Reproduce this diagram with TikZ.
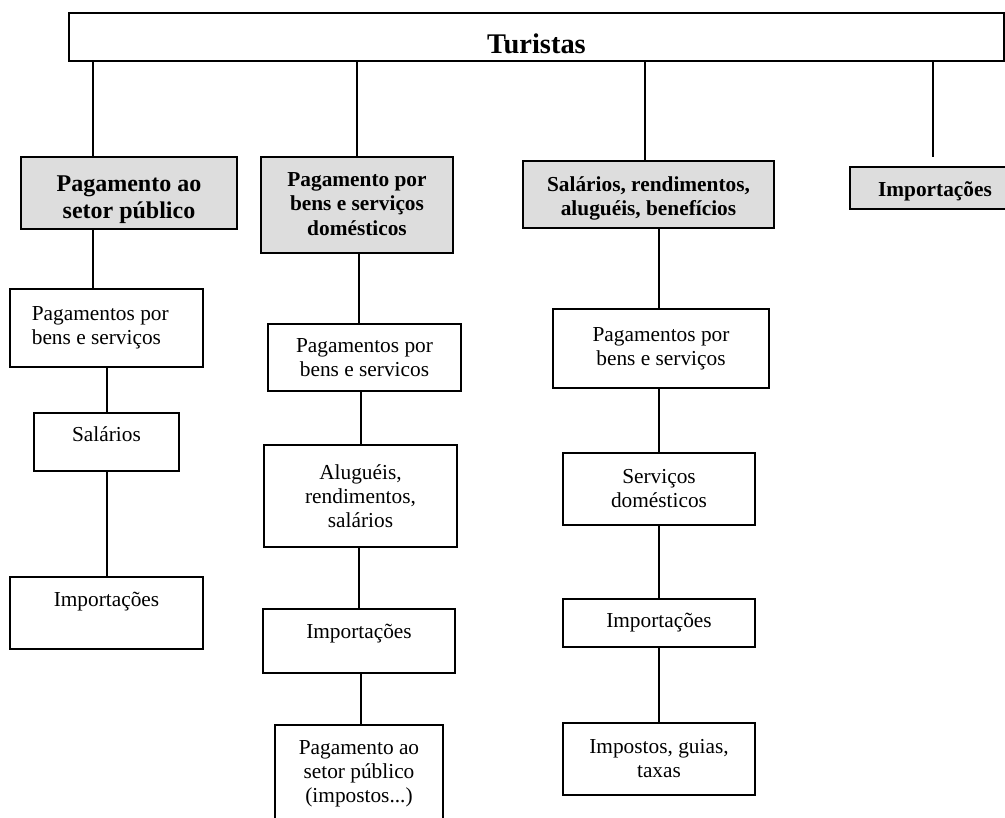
\documentclass[tikz,border=0pt]{standalone}
\usepackage{fontspec}
\setmainfont{Liberation Serif}
\usetikzlibrary{calc}
\definecolor{headgray}{HTML}{DDDDDD}
\newcommand\mydrop[2]{\raisebox{-#1}[\height][\depth]{\begin{tabular}{@{}c@{}}#2\end{tabular}}}
\begin{document}
\begin{tikzpicture}[x=0.5625pt,y=-0.5625pt,
  bx/.style={draw, line width=0.6pt, inner sep=2pt, align=center, font=\fontsize{12}{13.5}\selectfont},
  hd/.style={bx, fill=headgray, font=\bfseries\fontsize{12}{13.8}\selectfont},
  sz/.style 2 args={minimum width=#1*0.5625pt, minimum height=#2*0.5625pt},
  link/.style={draw, line width=0.6pt}]
\useasboundingbox (0,0) rectangle (1005,817);
% top
\node[bx, sz={935}{48}, font=\bfseries\fontsize{16}{19}\selectfont] (T) at (536.5,37) {\mydrop{5.2pt}{Turistas}};
% headers
\node[hd, sz={216}{72}, font=\bfseries\fontsize{13.5}{15.2}\selectfont] (A1) at (129,193) {\mydrop{3.9pt}{Pagamento ao\\setor público}};
\node[hd, sz={192}{96}] (B1) at (357,205) {\mydrop{0.6pt}{Pagamento por\\bens e serviços\\domésticos}};
\node[hd, sz={251}{67}] (C1) at (648.5,194.5) {\mydrop{2.2pt}{Salários, rendimentos,\\aluguéis, benefícios}};
\node[hd, sz={170}{42}] (D1) at (935,188) {\mydrop{2pt}{Importações}};
% column A
\node[bx, sz={193}{78}, align=flush left, text width=84pt, inner xsep=11.8pt] (A2) at (106.5,328) {Pagamentos por\\bens e serviços};
\node[bx, sz={145}{58}, text depth=8.4pt] (A3) at (106.5,442) {Salários};
\node[bx, sz={193}{72}, text depth=15pt] (A4) at (106.5,613) {Importações};
% column B
\node[bx, sz={193}{67}] (B2) at (364.5,357.5) {Pagamentos por\\bens e servicos};
\node[bx, sz={193}{102}] (B3) at (360.5,496) {Aluguéis,\\rendimentos,\\salários};
\node[bx, sz={192}{64}, text depth=10.5pt] (B4) at (359,641) {Importações};
\node[bx, sz={168}{98}] (B5) at (359,774) {Pagamento ao\\setor público\\(impostos...)};
% column C
\node[bx, sz={216}{79}] (C2) at (661,348.5) {Pagamentos por\\bens e serviços};
\node[bx, sz={192}{72}] (C3) at (659,489) {Serviços\\domésticos};
\node[bx, sz={192}{48}] (C4) at (659,623) {Importações};
\node[bx, sz={192}{72}] (C5) at (659,759) {Impostos, guias,\\taxas};
% connector x positions
\coordinate (xa) at (93,0);
\coordinate (xa2) at (107,0);
\coordinate (xb) at (357,0);
\coordinate (xb2) at (359,0);
\coordinate (xb3) at (361,0);
\coordinate (xc) at (645,0);
\coordinate (xc2) at (659,0);
\coordinate (xd) at (933,0);
% connectors
\draw[link] (xa |- T.south) -- (xa |- A1.north);
\draw[link] (xb |- T.south) -- (xb |- B1.north);
\draw[link] (xc |- T.south) -- (xc |- C1.north);
\draw[link] (xd |- T.south) -- ($(xd |- D1.north)+(0,-9)$);
\draw[link] (xa |- A1.south) -- (xa |- A2.north);
\draw[link] (xa2 |- A2.south) -- (xa2 |- A3.north);
\draw[link] (xa2 |- A3.south) -- (xa2 |- A4.north);
\draw[link] (xb2 |- B1.south) -- (xb2 |- B2.north);
\draw[link] (xb3 |- B2.south) -- (xb3 |- B3.north);
\draw[link] (xb2 |- B3.south) -- (xb2 |- B4.north);
\draw[link] (xb3 |- B4.south) -- (xb3 |- B5.north);
\draw[link] (xc2 |- C1.south) -- (xc2 |- C2.north);
\draw[link] (xc2 |- C2.south) -- (xc2 |- C3.north);
\draw[link] (xc2 |- C3.south) -- (xc2 |- C4.north);
\draw[link] (xc2 |- C4.south) -- (xc2 |- C5.north);
\end{tikzpicture}
\end{document}
